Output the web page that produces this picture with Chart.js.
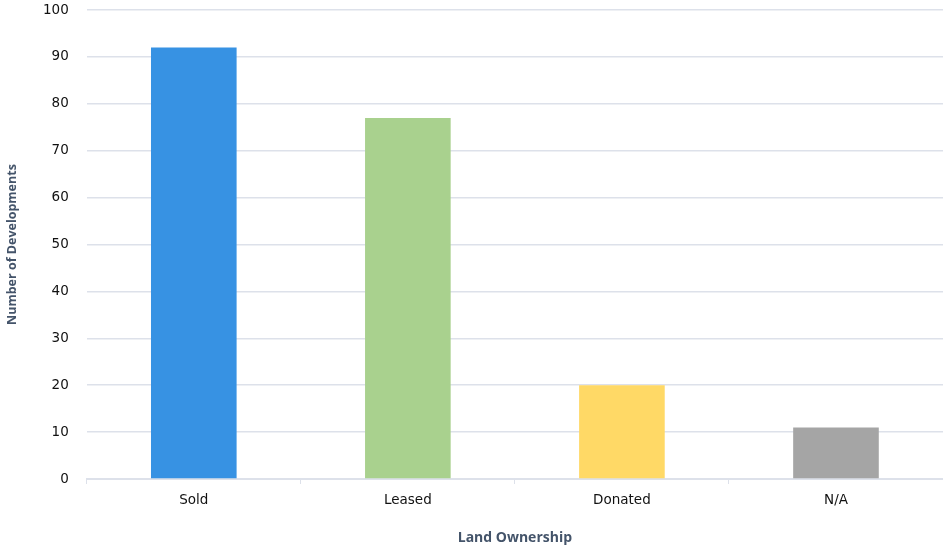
<!DOCTYPE html>
<html>
<head>
<meta charset="utf-8">
<script src="https://cdn.jsdelivr.net/npm/chart.js@4/dist/chart.umd.min.js"></script>
<style>
  html, body { margin: 0; padding: 0; background: #fff; }
  #wrap { width: 943px; height: 546px; }
</style>
</head>
<body>
<div id="wrap"><canvas id="chart"></canvas></div>
<script>
// land ownership counts
const categories = ['Sold', 'Leased', 'Donated', 'N/A'];
const developments = [92, 77, 20, 11];
const barColors = ['#3792e3', '#a9d18e', '#ffd966', '#a5a5a5'];

const gridColor = '#dde1ea';
const titleColor = '#44546a';
const tickFont = { family: '"DejaVu Sans", sans-serif', size: 13.5 };

Chart.defaults.font.family = '"Open Sans", sans-serif';

new Chart(document.getElementById('chart'), {
  type: 'bar',
  data: {
    labels: categories,
    datasets: [{
      label: 'Number of Developments',
      data: developments,
      backgroundColor: barColors,
      borderWidth: 0,
      barPercentage: 0.8,
      categoryPercentage: 0.5
    }]
  },
  options: {
    responsive: true,
    maintainAspectRatio: false,
    animation: false,
    layout: { padding: { top: 0, right: 0, bottom: 0, left: 5 } },
    plugins: {
      legend: { display: false },
      tooltip: { enabled: false }
    },
    scales: {
      x: {
        grid: {
          offset: true,
          drawOnChartArea: false,
          drawTicks: true,
          tickLength: 5,
          color: gridColor
        },
        border: { color: gridColor, width: 2 },
        ticks: { color: '#111', font: tickFont, padding: 8 },
        title: {
          display: true,
          text: 'Land Ownership',
          color: titleColor,
          font: { size: 14, weight: 'bold' },
          padding: { top: 13, bottom: 0 }
        }
      },
      y: {
        min: 0,
        max: 100,
        ticks: { stepSize: 10, color: '#111', font: tickFont, padding: 2 },
        // invisible tick marks keep the labels clear of the plot
        grid: { color: gridColor, drawTicks: true, tickLength: 16, tickColor: 'transparent', lineWidth: 1.5 },
        border: { display: false },
        title: {
          display: true,
          text: 'Number of Developments',
          color: titleColor,
          font: { size: 12.5, weight: 'bold' },
          padding: { top: 0, bottom: 21 }
        }
      }
    }
  }
});
</script>
</body>
</html>
